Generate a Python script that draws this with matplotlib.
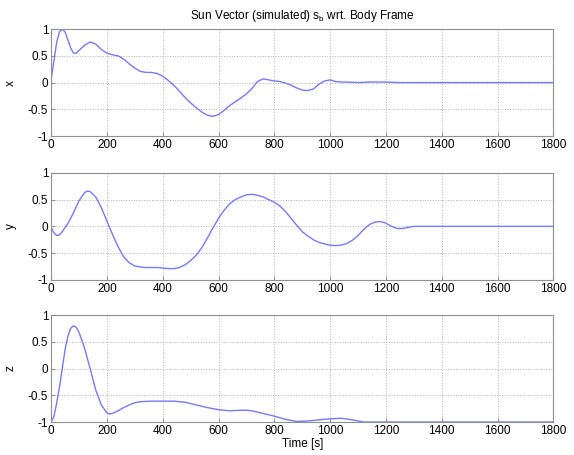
import numpy as np
import matplotlib
matplotlib.use("Agg")
import matplotlib.pyplot as plt

# values, time in seconds
t_x = [0, 10, 20, 30, 40, 50, 60, 70, 80, 90, 100, 120, 140, 160, 180, 200, 220, 240,
       260, 280, 300, 320, 340, 360, 380, 400, 420, 440, 460, 480, 500, 520, 540, 560,
       580, 600, 620, 640, 660, 680, 700, 720, 740, 760, 780, 800, 820, 840, 860, 880,
       900, 920, 940, 960, 980, 1000, 1020, 1040, 1060, 1100, 1140, 1200, 1250, 1800]
sx = [0.05, 0.4, 0.75, 0.95, 1.0, 0.95, 0.8, 0.65, 0.55, 0.55, 0.6, 0.7, 0.76, 0.72,
      0.62, 0.55, 0.52, 0.5, 0.44, 0.35, 0.27, 0.21, 0.19, 0.19, 0.17, 0.12, 0.04, -0.05,
      -0.16, -0.28, -0.38, -0.47, -0.55, -0.61, -0.63, -0.6, -0.52, -0.43, -0.36, -0.29,
      -0.21, -0.11, 0.02, 0.07, 0.05, 0.03, 0.02, -0.01, -0.05, -0.1, -0.14, -0.15, -0.12,
      -0.03, 0.03, 0.05, 0.02, 0.01, 0.01, 0.0, 0.01, 0.01, 0.0, 0.0]

t_y = [0, 10, 20, 30, 40, 60, 80, 100, 120, 130, 140, 160, 180, 200, 220, 240, 260, 280,
       300, 320, 340, 360, 380, 400, 420, 440, 460, 480, 500, 520, 540, 560, 580, 600,
       620, 640, 660, 680, 700, 720, 740, 760, 780, 800, 820, 840, 860, 880, 900, 920,
       940, 960, 980, 1000, 1020, 1040, 1060, 1080, 1100, 1120, 1140, 1160, 1180, 1200,
       1220, 1240, 1260, 1280, 1300, 1800]
sy = [-0.02, -0.12, -0.17, -0.16, -0.1, 0.05, 0.25, 0.48, 0.63, 0.66, 0.65, 0.55, 0.35,
      0.1, -0.15, -0.38, -0.57, -0.68, -0.74, -0.76, -0.77, -0.77, -0.77, -0.78, -0.79,
      -0.79, -0.77, -0.72, -0.64, -0.54, -0.4, -0.22, -0.03, 0.15, 0.3, 0.42, 0.5, 0.55,
      0.59, 0.6, 0.58, 0.55, 0.5, 0.45, 0.38, 0.28, 0.15, 0.02, -0.1, -0.18, -0.25, -0.3,
      -0.33, -0.35, -0.36, -0.35, -0.32, -0.26, -0.17, -0.06, 0.03, 0.08, 0.09, 0.06,
      0.0, -0.04, -0.04, -0.02, 0.0, 0.0]

t_z = [0, 10, 20, 30, 40, 50, 60, 70, 80, 90, 100, 120, 140, 160, 180, 200, 210, 220,
       240, 260, 280, 300, 320, 360, 400, 440, 480, 520, 560, 600, 640, 680, 700, 720,
       760, 800, 840, 880, 920, 960, 1000, 1040, 1080, 1120, 1800]
sz = [-1.0, -0.9, -0.65, -0.35, 0.0, 0.35, 0.6, 0.75, 0.8, 0.77, 0.68, 0.38, 0.0, -0.4,
      -0.68, -0.83, -0.85, -0.84, -0.79, -0.73, -0.68, -0.64, -0.62, -0.61, -0.61, -0.61,
      -0.63, -0.68, -0.73, -0.77, -0.79, -0.78, -0.78, -0.79, -0.84, -0.89, -0.95, -0.99,
      -0.98, -0.96, -0.94, -0.93, -0.96, -1.0, -1.0]

labels = ["x", "y", "z"]
series = [(t_x, sx), (t_y, sy), (t_z, sz)]

plt.rcParams["font.family"] = ["Liberation Sans", "DejaVu Sans"]
plt.rcParams["font.size"] = 8.5

fig = plt.figure(figsize=(5.74, 4.55), dpi=100)
bottoms = [0.701, 0.385, 0.0725]
for i, (lab, (t, v)) in enumerate(zip(labels, series)):
    ax = fig.add_axes([0.089, bottoms[i], 0.875, 0.235])
    ax.plot(t, v, color="#7878ff", lw=1.0, solid_joinstyle="round")
    ax.set_xlim(0, 1800)
    ax.set_ylim(-1, 1)
    ax.set_xticks(np.arange(0, 1801, 200))
    ax.set_yticks([-1, -0.5, 0, 0.5, 1])
    ax.set_yticklabels(["-1", "-0.5", "0", "0.5", "1"])
    ax.grid(True, ls=":", color="#b0b0b0", lw=0.7)
    for s in ax.spines.values():
        s.set_color("#909090")
    ax.tick_params(direction="in", length=3, color="#909090", pad=2)
    ax.set_ylabel(lab, labelpad=8)
    if i == 0:
        ax.set_title("Sun Vector (simulated) s$_{\\mathregular{b}}$ wrt. Body Frame",
                     fontsize=8.5, pad=7)
    if i == 2:
        ax.set_xlabel("Time [s]", labelpad=1)

fig.savefig("out.png", dpi=100)
